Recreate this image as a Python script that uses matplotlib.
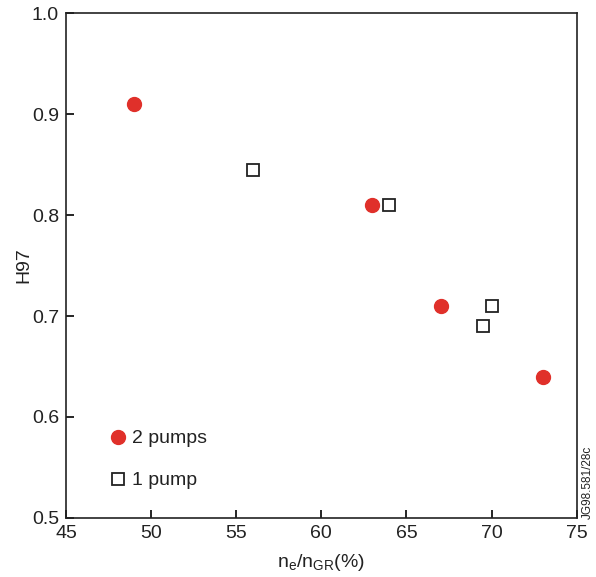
import matplotlib
matplotlib.use("Agg")
import matplotlib.pyplot as plt
from matplotlib.lines import Line2D

plt.rcParams["font.family"] = ["Liberation Sans", "DejaVu Sans"]
plt.rcParams["mathtext.fontset"] = "custom"
plt.rcParams["mathtext.rm"] = "Liberation Sans"

# Data
two_pumps_ne = [49, 63, 67, 73]
two_pumps_h97 = [0.91, 0.81, 0.71, 0.64]
one_pump_ne = [56, 64, 70, 69.5]
one_pump_h97 = [0.845, 0.81, 0.71, 0.69]

x_ticks = [45, 50, 55, 60, 65, 70, 75]
y_ticks = [0.5, 0.6, 0.7, 0.8, 0.9, 1.0]

RED = "#e0302a"
TXT = "#222222"

fig = plt.figure(figsize=(5.96, 5.77), dpi=100)
ax = fig.add_axes([0.1107, 0.1023, 0.857, 0.875])

ax.plot(two_pumps_ne, two_pumps_h97, "o", ms=10, color=RED, mec=RED,
        ls="none")
ax.plot(one_pump_ne, one_pump_h97, "s", ms=9.3, mfc="white", mec="#222222",
        mew=1.3, ls="none")

ax.set_xlim(45, 75)
ax.set_ylim(0.5, 1.0)
ax.set_xticks(x_ticks)
ax.set_yticks(y_ticks)
ax.set_yticklabels([f"{v:.1f}" for v in y_ticks])
ax.tick_params(direction="in", length=6, width=1.2, labelsize=14,
               labelcolor=TXT, pad=5)
for s in ax.spines.values():
    s.set_linewidth(1.2)
    s.set_color("#222222")

ax.set_xlabel("n$_\\mathregular{e}$/n$_\\mathregular{GR}$(%)", fontsize=14,
              color=TXT, labelpad=7)
ax.set_ylabel("H97", fontsize=14, color=TXT, labelpad=0)

handles = [
    Line2D([], [], marker="o", ls="none", ms=10, color=RED, mec=RED),
    Line2D([], [], marker="s", ls="none", ms=9.3, mfc="white",
           mec="#222222", mew=1.3),
]
leg = ax.legend(handles, ["2 pumps", "1 pump"], loc="lower left",
                bbox_to_anchor=(0.046, 0.022), frameon=False, fontsize=14,
                handletextpad=0.18, labelspacing=1.25, handlelength=1.1)
for t in leg.get_texts():
    t.set_color(TXT)

fig.text(0.976, 0.1, "JG98.581/28c", rotation=90, fontsize=8.5,
         color=TXT, ha="left", va="bottom")

fig.savefig("out.png", dpi=100)
